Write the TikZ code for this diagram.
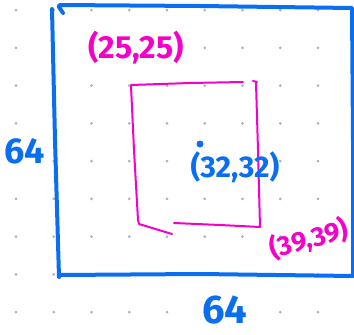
\documentclass[tikz,border=0pt]{standalone}
\usepackage{fontspec}
\setmainfont{Fira Sans}
\definecolor{penblue}{RGB}{10,110,240}
\definecolor{penpink}{RGB}{245,0,200}
\definecolor{dotgray}{RGB}{165,178,200}
\begin{document}
\begin{tikzpicture}[x=1pt, y=-1pt, line join=round, line cap=round,
	bluepen/.style={line width=4pt, penblue},
	pinkpen/.style={line width=2pt, penpink},
	handtext/.style={font=\bfseries\fontsize{#1}{#1}\selectfont, inner sep=0pt},
	handtext/.default=28]
			\useasboundingbox (0,0) rectangle (354,335);
			% Vẽ lưới chấm
			\foreach \i in {0,...,8}
				\foreach \j in {0,...,8}
					\fill[dotgray] ({16+37.75*\i},{10+37.75*\j}) circle (1.5);
			% Vẽ hình vuông lớn 64 x 64
			\draw[bluepen] (52,9) -- (55,140) -- (59,277);
			\draw[bluepen] (63,13) .. controls (60,8) and (57,6) .. (60,5) -- (200,6) -- (352,8) -- (353,140) -- (353,275);
			\draw[bluepen] (60,275) -- (200,274) -- (353,276);
			% Vẽ khung con (màu hồng)
			\draw[pinkpen] (131,85) -- (190,83) -- (243,82);
			\draw[pinkpen] (253,81) -- (257,82);
			\draw[pinkpen] (256,83) -- (258,150) -- (260,227);
			\draw[pinkpen] (131,86) -- (134,150) -- (138,220) -- (139,224) -- (172,234);
			\draw[pinkpen] (174,223) -- (220,225) -- (260,227);
			% Điểm tâm
			\fill[penblue] (200,144) coordinate (tam) circle (3.5);
			% Kí hiệu các tọa độ
			\node[handtext=32, penpink] (goc1) at (136,48) {(25,25)};
			\node[handtext=30, penblue] (tam-nhan) at (235,167) {(32,32)};
			\node[handtext=27, penpink, rotate=15] (goc2) at (309,239) {(39,39)};
			\node[handtext=36, penblue] (canh-trai) at (25,151) {64};
			\node[handtext=40, penblue] (canh-duoi) at (225,310) {64};
		\end{tikzpicture}
\end{document}
